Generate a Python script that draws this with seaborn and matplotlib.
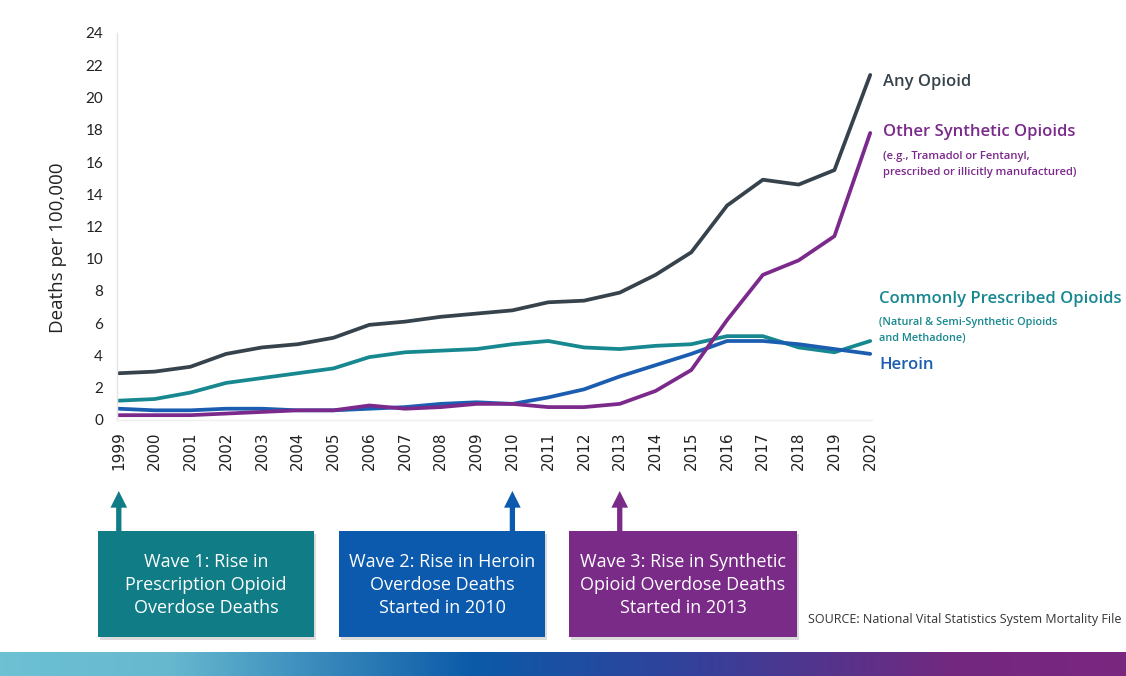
import numpy as np
import pandas as pd
import matplotlib
matplotlib.use("Agg")
import matplotlib.pyplot as plt
import seaborn as sns
from matplotlib.patches import Rectangle
from matplotlib.transforms import blended_transform_factory
from matplotlib.colors import LinearSegmentedColormap

years = list(range(1999, 2021))
any_opioid = [2.9, 3.0, 3.3, 4.1, 4.5, 4.7, 5.1, 5.9, 6.1, 6.4, 6.6, 6.8,
              7.3, 7.4, 7.9, 9.0, 10.4, 13.3, 14.9, 14.6, 15.5, 21.4]
other_synthetic = [0.3, 0.3, 0.3, 0.4, 0.5, 0.6, 0.6, 0.9, 0.7, 0.8, 1.0, 1.0,
                   0.8, 0.8, 1.0, 1.8, 3.1, 6.2, 9.0, 9.9, 11.4, 17.8]
common_rx = [1.2, 1.3, 1.7, 2.3, 2.6, 2.9, 3.2, 3.9, 4.2, 4.3, 4.4, 4.7,
             4.9, 4.5, 4.4, 4.6, 4.7, 5.2, 5.2, 4.5, 4.2, 4.9]
heroin = [0.7, 0.6, 0.6, 0.7, 0.7, 0.6, 0.6, 0.7, 0.8, 1.0, 1.1, 1.0,
          1.4, 1.9, 2.7, 3.4, 4.1, 4.9, 4.9, 4.7, 4.4, 4.1]

series_names = ["Commonly Prescribed Opioids", "Heroin", "Other Synthetic Opioids", "Any Opioid"]
series_values = [common_rx, heroin, other_synthetic, any_opioid]
colors = {"Any Opioid": "#37434c", "Other Synthetic Opioids": "#7b2a8c",
          "Commonly Prescribed Opioids": "#17888f", "Heroin": "#1b5db0"}

wave_years = [1999, 2010, 2013]
wave_texts = ["Wave 1: Rise in\nPrescription Opioid\nOverdose Deaths",
              "Wave 2: Rise in Heroin\nOverdose Deaths\nStarted in 2010",
              "Wave 3: Rise in Synthetic\nOpioid Overdose Deaths\nStarted in 2013"]
wave_colors = ["#0f7c86", "#0b5aad", "#7a2a87"]

df = pd.DataFrame({
    "Year": np.tile(years, len(series_names)),
    "Rate": np.concatenate(series_values),
    "Series": np.repeat(series_names, len(years)),
})

sns.set_theme(style="white")
plt.rcParams["font.family"] = ["Open Sans", "DejaVu Sans"]

W, H = 1126, 676
fig = plt.figure(figsize=(W / 100, H / 100), dpi=100)
ax = fig.add_axes([117 / W, 1 - 420 / H, (872 - 117) / W, (420 - 33) / H])

sns.lineplot(data=df, x="Year", y="Rate", hue="Series", palette=colors,
             linewidth=2.7, ax=ax, legend=False)

ax.set_xlim(1998.95, 2020.05)
ax.set_ylim(0, 24)
ax.set_yticks(range(0, 25, 2))
ax.set_xticks(years)
ax.set_xticklabels([str(y) for y in years], rotation=90, family="DejaVu Sans",
                   fontsize=11, color="#222222")
for lab in ax.get_yticklabels():
    lab.set_family("Lato")
    lab.set_fontsize(11)
    lab.set_color("#222222")
ax.tick_params(axis="y", length=0, pad=10)
ax.tick_params(axis="x", length=0, pad=8)
ax.set_xlabel("")
ax.set_ylabel("Deaths per 100,000", fontsize=13.5, color="#222222")
ax.yaxis.set_label_coords(-0.066, 0.444)
for s in ["top", "right"]:
    ax.spines[s].set_visible(False)
ax.spines["left"].set_color("#e4e4e4")
ax.spines["bottom"].set_color("#efefef")
ax.spines["left"].set_linewidth(1)
ax.spines["bottom"].set_linewidth(1)

# Right-side labels
def ftext(xpx, ypx, s, color, size, weight="semibold"):
    fig.text(xpx / W, 1 - ypx / H, s, color=color, fontsize=size,
             fontweight=weight, va="center", ha="left")

ftext(883, 82, "Any Opioid", colors["Any Opioid"], 12)
ftext(883, 132, "Other Synthetic Opioids", colors["Other Synthetic Opioids"], 12)
ftext(883, 156, "(e.g., Tramadol or Fentanyl,", colors["Other Synthetic Opioids"], 8.1)
ftext(883, 173, "prescribed or illicitly manufactured)", colors["Other Synthetic Opioids"], 8.1)
ftext(879, 299, "Commonly Prescribed Opioids", colors["Commonly Prescribed Opioids"], 12)
ftext(879, 322, "(Natural & Semi-Synthetic Opioids", colors["Commonly Prescribed Opioids"], 7.8)
ftext(879, 339, "and Methadone)", colors["Commonly Prescribed Opioids"], 7.8)
ftext(879, 365, "Heroin", colors["Heroin"], 12)

# Wave boxes and arrows
boxes_px = [(98, 314), (339, 545), (569, 797)]
y_top, y_bot = 531, 637
trans = blended_transform_factory(ax.transData, fig.transFigure)
for (x0, x1), txt, col, yr in zip(boxes_px, wave_texts, wave_colors, wave_years):
    shadow = Rectangle((x0 / W + 0.002, 1 - y_bot / H - 0.004), (x1 - x0) / W, (y_bot - y_top) / H,
                       transform=fig.transFigure, facecolor="#999999", alpha=0.35,
                       edgecolor="none", zorder=1)
    fig.patches.append(shadow)
    rect = Rectangle((x0 / W, 1 - y_bot / H), (x1 - x0) / W, (y_bot - y_top) / H,
                     transform=fig.transFigure, facecolor=col, edgecolor="none", zorder=2)
    fig.patches.append(rect)
    fig.text((x0 + x1) / 2 / W, 1 - (y_top + y_bot + 2) / 2 / H, txt, color="white",
             fontsize=13, ha="center", va="center", linespacing=1.35,
             family=["Open Sans", "DejaVu Sans"], zorder=3)
    ax.annotate("", xy=(yr, 1 - 491 / H), xytext=(yr, 1 - y_top / H),
                xycoords=trans, textcoords=trans, annotation_clip=False,
                arrowprops=dict(arrowstyle="simple,head_length=0.6,head_width=0.6,tail_width=0.19",
                                mutation_scale=20, color=col, shrinkA=0, shrinkB=0, lw=0))

fig.text(808 / W, 1 - 620 / H, "SOURCE: National Vital Statistics System Mortality File",
         color="#333333", fontsize=9, ha="left", va="center")

# Gradient bar
gax = fig.add_axes([0, 0, 1, 24 / H])
cmap = LinearSegmentedColormap.from_list(
    "band", [(0, "#6dc1d3"), (0.15, "#66b8cf"), (0.42, "#0b5aa8"),
             (0.62, "#35409a"), (0.85, "#74287f"), (1, "#7a2680")])
gax.imshow(np.linspace(0, 1, 512)[None, :], aspect="auto", cmap=cmap,
           extent=[0, 1, 0, 1])
gax.set_axis_off()

fig.savefig("out.png", dpi=100, facecolor="white")
